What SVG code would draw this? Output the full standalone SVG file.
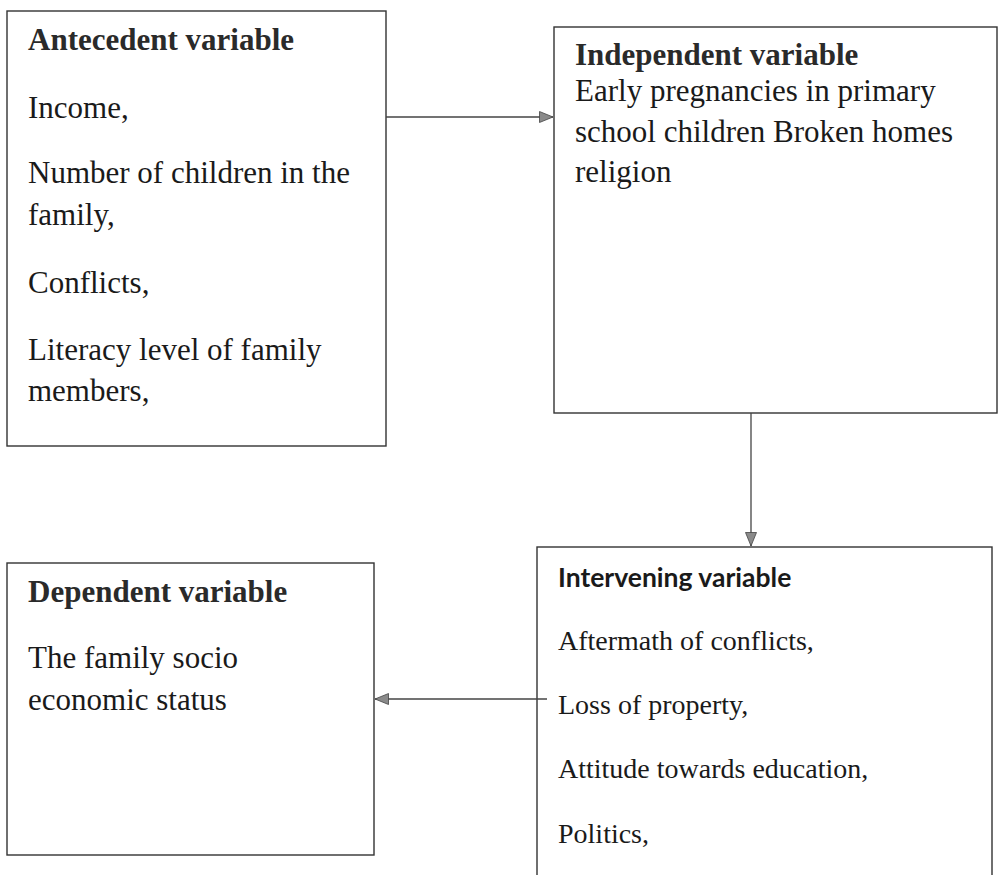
<svg xmlns="http://www.w3.org/2000/svg" width="999" height="875" viewBox="0 0 999 875">
<style>
.box{fill:#fff;stroke:#333;stroke-width:1.4}
.t{font-family:"Liberation Serif","Times New Roman",serif;font-size:31px;fill:#1a1a1a}
.tc{font-family:"Liberation Serif","Times New Roman",serif;font-size:28px;fill:#1a1a1a}
.h{font-family:"Liberation Serif","Times New Roman",serif;font-size:31px;font-weight:bold;fill:#2a2a2a}
.hs{font-family:Lato,"Open Sans",sans-serif;font-size:26.5px;font-weight:bold;fill:#1a1a1a}
.conn{stroke:#444;stroke-width:1.3;fill:none}
</style>
<defs>
<marker id="ah" viewBox="0 0 14 12" refX="14" refY="6" markerWidth="14" markerHeight="12" markerUnits="userSpaceOnUse" orient="auto">
<path d="M0.5,0.5 L14,6 L0.5,11.5 Z" fill="#8a8a8a" stroke="#444" stroke-width="0.8"/>
</marker>
</defs>
<rect width="999" height="875" fill="#fff"/>
<g id="antecedent">
<rect class="box" x="7" y="11" width="379" height="435"/>
<text class="h" x="28" y="50">Antecedent variable</text>
<text class="t" x="28" y="118">Income,</text>
<text class="t" x="28" y="183">Number of children in the</text>
<text class="t" x="28" y="225">family,</text>
<text class="t" x="28" y="293">Conflicts,</text>
<text class="t" x="28" y="360">Literacy level of family</text>
<text class="t" x="28" y="401">members,</text>
</g>
<g id="independent">
<rect class="box" x="554" y="27" width="443" height="386"/>
<text class="h" x="575" y="65">Independent variable</text>
<text class="t" x="575" y="101">Early pregnancies in primary</text>
<text class="t" x="575" y="142">school children Broken homes</text>
<text class="t" x="575" y="182">religion</text>
</g>
<g id="intervening">
<rect class="box" x="537" y="547" width="455" height="345"/>
<text class="hs" x="558" y="587">Intervening variable</text>
<text class="tc" x="558" y="650">Aftermath of conflicts,</text>
<text class="tc" x="558" y="714">Loss of property,</text>
<text class="tc" x="558" y="778">Attitude towards education,</text>
<text class="tc" x="558" y="843">Politics,</text>
</g>
<g id="dependent">
<rect class="box" x="7" y="563" width="367" height="292"/>
<text class="h" x="28" y="602">Dependent variable</text>
<text class="t" x="28" y="668">The family socio</text>
<text class="t" x="28" y="710">economic status</text>
</g>
<g id="connectors">
<line class="conn" x1="386" y1="117" x2="553" y2="117" marker-end="url(#ah)"/>
<line class="conn" x1="751" y1="413" x2="751" y2="546" marker-end="url(#ah)"/>
<line class="conn" x1="547" y1="699" x2="375" y2="699" marker-end="url(#ah)"/>
</g>
</svg>
